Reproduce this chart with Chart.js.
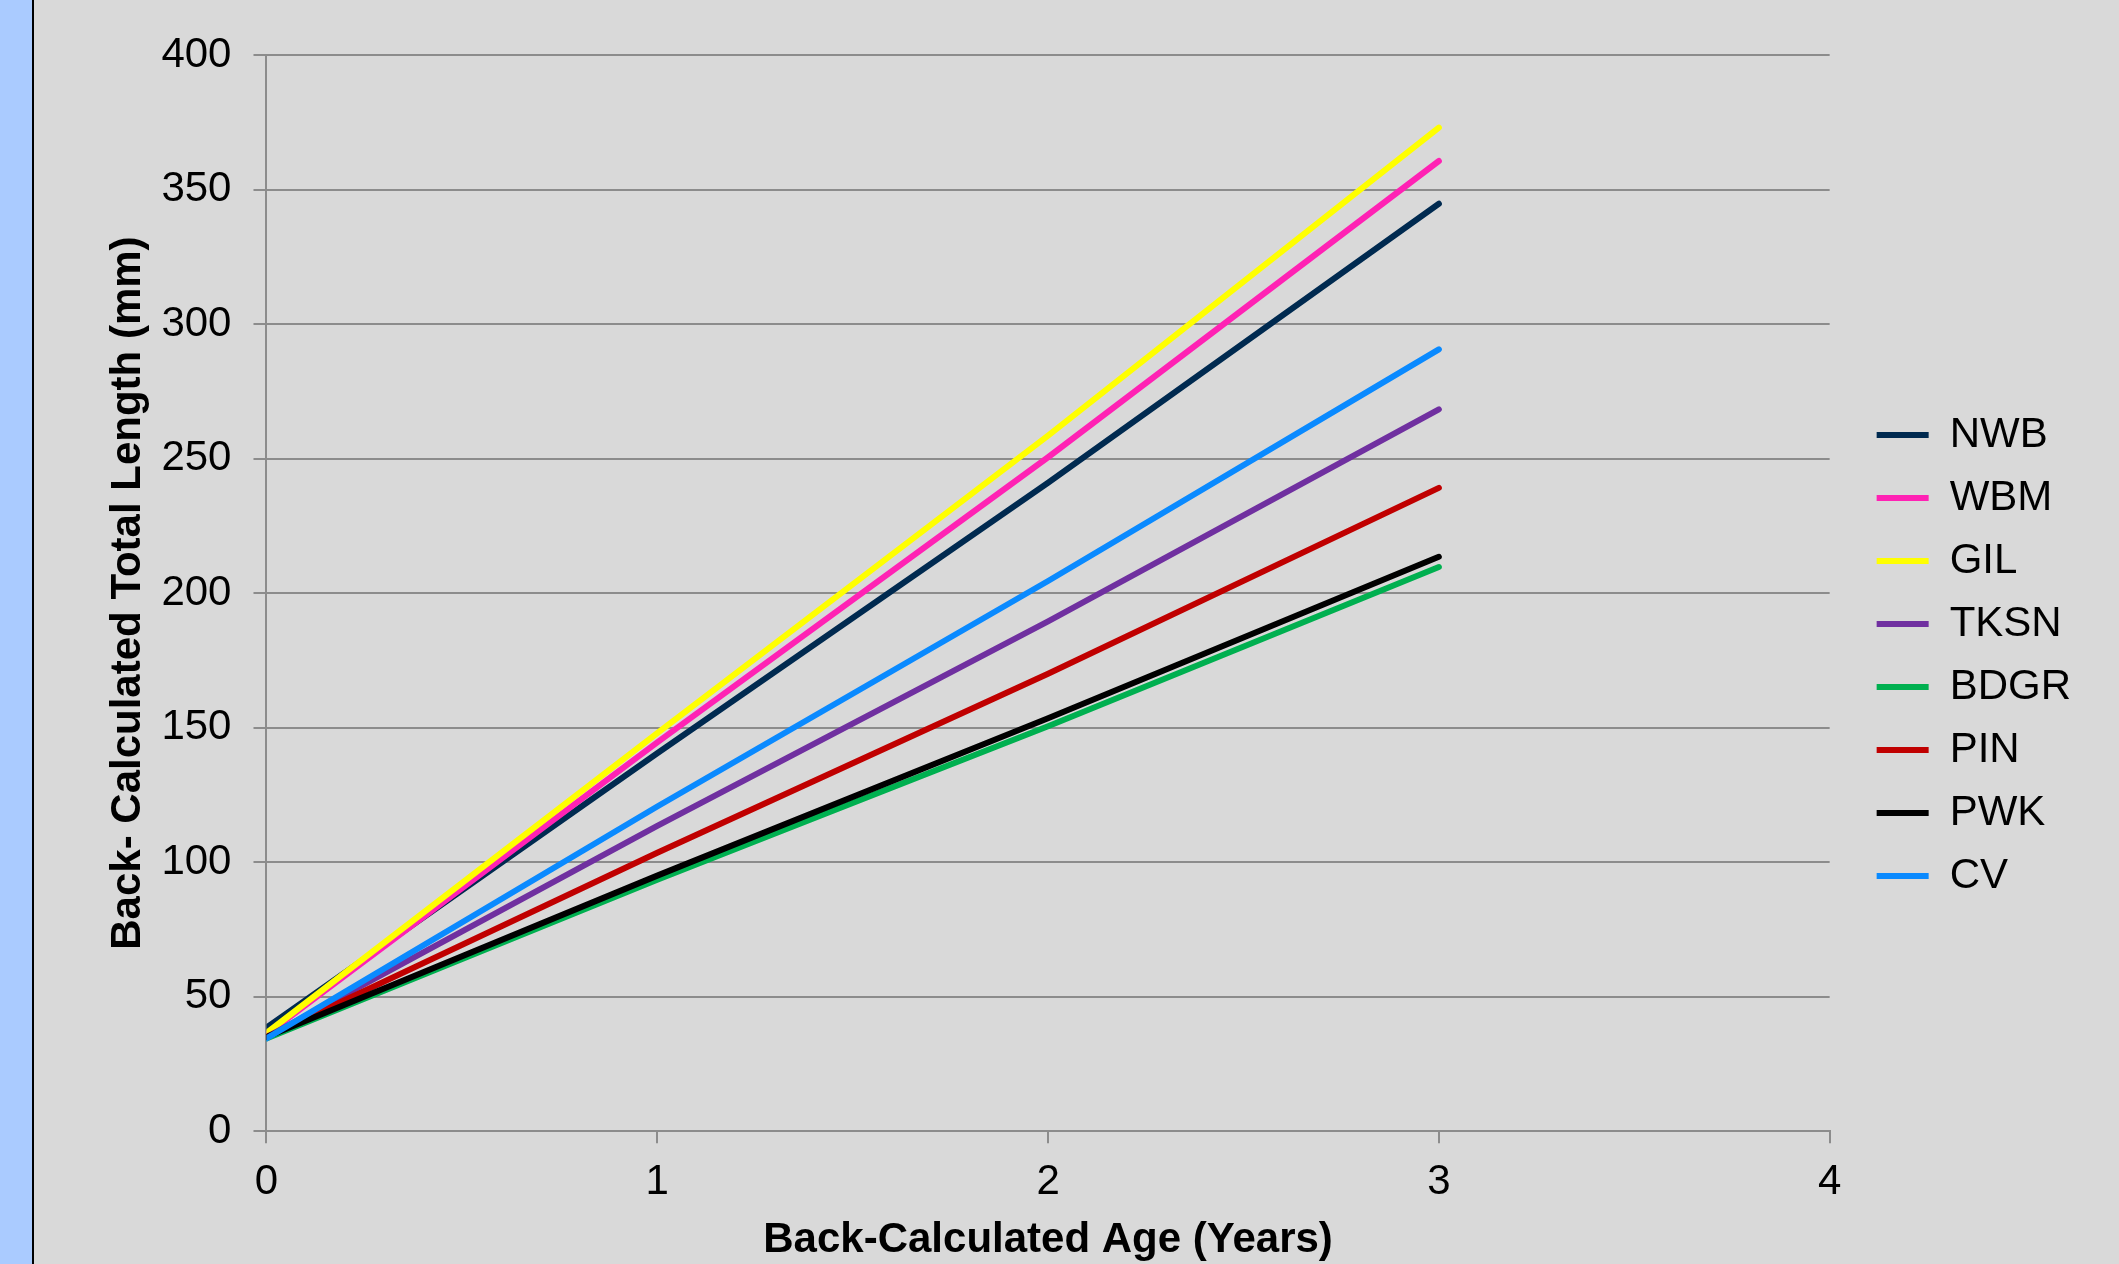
<!DOCTYPE html>
<html>
<head>
<meta charset="utf-8">
<script src="https://cdn.jsdelivr.net/npm/chart.js@4.4.1/dist/chart.umd.min.js"></script>
<style>
  html, body { margin: 0; padding: 0; background: #d9d9d9; overflow: hidden; }
  #strip { position: absolute; left: 0; top: 0; width: 32px; height: 1264px; background: #aacbff; border-right: 2px solid #000; }
  #wrap { position: absolute; left: 34px; top: 0; width: 2085px; height: 1264px; }
</style>
</head>
<body>
<div id="strip"></div>
<div id="wrap"><canvas id="myChart" width="2085" height="1264"></canvas></div>
<script>
const ctx = document.getElementById('myChart');

// ages (years)
const ages = [0, 1, 2, 3];
// back-calculated total length (mm) per site
const names = ['NWB', 'WBM', 'GIL', 'TKSN', 'BDGR', 'PIN', 'PWK', 'CV'];
const NWB  = [38.5, 140.5, 241, 344.7];
const WBM  = [36, 144.5, 250.5, 360.6];
const GIL  = [36.5, 148, 258.5, 373];
const TKSN = [35, 113.5, 189.5, 268.3];
const BDGR = [34.5, 93.5, 150.5, 209.7];
const PIN  = [35, 103.5, 170, 239.1];
const PWK  = [35, 95, 153.5, 213.5];
const CV   = [34.5, 120.7, 204.5, 290.6];
const series = [NWB, WBM, GIL, TKSN, BDGR, PIN, PWK, CV];
const colors = ['#002a50', '#ff22b4', '#ffff00', '#7030a0', '#00b050', '#c00000', '#000000', '#0a8aff'];
const xTicks = [0, 1, 2, 3, 4];
const yTicks = [0, 50, 100, 150, 200, 250, 300, 350, 400];

Chart.defaults.font.family = '"Liberation Sans", Arial, sans-serif';
Chart.defaults.color = '#000';

const datasets = series.map((vals, i) => ({
  label: names[i],
  data: ages.map((a, j) => ({ x: a, y: vals[j] })),
  borderColor: colors[i],
  backgroundColor: colors[i],
  borderWidth: 6,
  borderCapStyle: 'round',
  pointRadius: 0,
  fill: false,
  order: series.length - i   // later series drawn on top, like excel
}));

// push the legend a bit right of the plot, leaves a gap like the original
const legendGap = {
  id: 'legendGap',
  afterLayout(chart) {
    chart.legend.left += 26;
    chart.legend.right += 26;
    chart.legend.top -= 4;
    chart.legend.bottom -= 4;
  }
};

const myChart = new Chart(ctx, {
  type: 'line',
  data: { datasets: datasets },
  plugins: [legendGap],
  options: {
    responsive: false,
    animation: false,
    devicePixelRatio: 1,
    layout: { padding: { left: 69, right: 64, top: 55, bottom: 0 } },
    plugins: {
      legend: {
        position: 'right',
        align: 'center',
        labels: {
          usePointStyle: true,
          pointStyle: 'line',
          pointStyleWidth: 52,
          boxHeight: 42,
          padding: 21,
          font: { size: 42 },
          sort: (a, b) => a.datasetIndex - b.datasetIndex
        }
      },
      tooltip: { enabled: false }
    },
    scales: {
      x: {
        type: 'linear',
        min: 0,
        max: 4,
        afterBuildTicks: s => { s.ticks = xTicks.map(v => ({ value: v })); },
        border: { display: true, color: '#8c8c8c', width: 2 },
        grid: { drawOnChartArea: false, drawTicks: true, tickLength: 12, color: '#8c8c8c', lineWidth: 2 },
        ticks: { font: { size: 42 }, padding: 14 },
        title: { display: true, text: 'Back-Calculated Age (Years)', font: { size: 42, weight: 'bold' }, padding: { top: -6, bottom: -2 } }
      },
      y: {
        min: 0,
        max: 400,
        afterBuildTicks: s => { s.ticks = yTicks.map(v => ({ value: v })); },
        border: { display: true, color: '#8c8c8c', width: 2 },
        grid: { drawOnChartArea: true, drawTicks: true, tickLength: 13, color: '#8c8c8c', lineWidth: 2 },
        ticks: { font: { size: 42 }, padding: 22 },
        title: { display: true, text: 'Back- Calculated Total Length (mm)', font: { size: 42, weight: 'bold' }, padding: { top: 0, bottom: -14 } }
      }
    }
  }
});
</script>
</body>
</html>
